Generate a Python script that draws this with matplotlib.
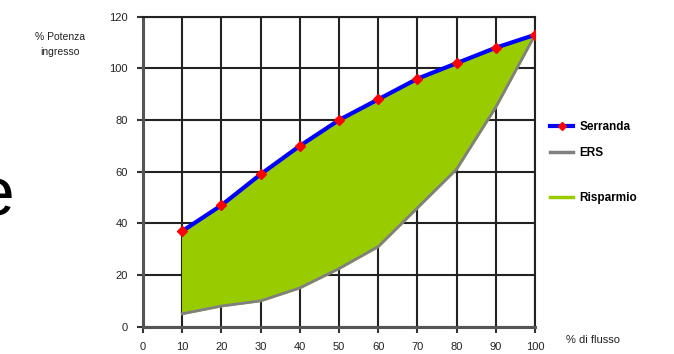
import numpy as np
import matplotlib
matplotlib.use("Agg")
import matplotlib.pyplot as plt
from matplotlib.lines import Line2D

plt.rcParams['font.family'] = ['Liberation Sans', 'DejaVu Sans']

# Portata (% di flusso) e potenza assorbita (% potenza ingresso)
flusso = [10, 20, 30, 40, 50, 60, 70, 80, 90, 100]
serranda = [37, 47, 59, 70, 80, 88, 96, 102, 108, 113]
ers = [5, 8, 10, 15, 22.5, 31, 46, 61, 85, 113]

x_ticks = [0, 10, 20, 30, 40, 50, 60, 70, 80, 90, 100]
y_ticks = [0, 20, 40, 60, 80, 100, 120]

GRID = '#222222'
GREEN = '#99cc00'
TXT = '#222222'

fig = plt.figure(figsize=(6.74, 3.54), dpi=100)
ax = fig.add_axes([0.2122, 0.0771, 0.5816, 0.8757])

ax.fill_between(flusso, ers, serranda, color=GREEN, zorder=2)
ax.plot(flusso, ers, color='#808080', lw=2, zorder=3)
ax.plot(flusso, serranda, color='#0000ff', lw=3, zorder=4)
ax.plot(flusso, serranda, ls='none', marker='D', ms=5, color='#ff0000',
        mec='#ff0000', zorder=5)

ax.set_xlim(0, 100)
ax.set_ylim(0, 120)
ax.set_xticks(x_ticks)
ax.set_yticks(y_ticks)
ax.grid(True, color=GRID, lw=1.5, zorder=1)
ax.set_axisbelow(True)
for s in ax.spines.values():
    s.set_color(GRID)
    s.set_linewidth(1.5)
for side in ('left', 'bottom'):
    ax.spines[side].set_color('#555555')
    ax.spines[side].set_linewidth(2.2)
ax.tick_params(axis='both', direction='out', length=4, width=1.5,
               color='#333333', labelsize=8, labelcolor=TXT)
ax.tick_params(axis='x', pad=7)
ax.tick_params(axis='y', pad=7)

# axis titles
fig.text(60 / 674, 1 - 37 / 354, '% Potenza', fontsize=7.5, ha='center',
         va='center', color=TXT)
fig.text(60 / 674, 1 - 52 / 354, 'ingresso', fontsize=7.5, ha='center',
         va='center', color=TXT)
fig.text(593 / 674, 1 - 340 / 354, '% di flusso', fontsize=8, ha='center',
         va='center', color=TXT)

# legend entries, one per row
entries = [
    (Line2D([], [], color='#0000ff', lw=3, marker='D', ms=4,
            mfc='#ff0000', mec='#ff0000'), 'Serranda', 127),
    (Line2D([], [], color='#808080', lw=2.5), 'ERS', 153),
    (Line2D([], [], color=GREEN, lw=2.5), 'Risparmio', 198),
]
for handle, label, y in entries:
    leg = fig.legend([handle], [label], loc='center left',
                     bbox_to_anchor=(545 / 674, 1 - y / 354),
                     frameon=False, fontsize=8.5, handlelength=2.0,
                     handletextpad=0.5, borderaxespad=0)
    for t in leg.get_texts():
        t.set_fontweight('bold')

# big letter cut off on the left edge
fig.text(15 / 674, 1 - 216 / 354, 'e', fontsize=50, ha='right',
         va='baseline', color='black')

fig.savefig('out.png', dpi=100)
